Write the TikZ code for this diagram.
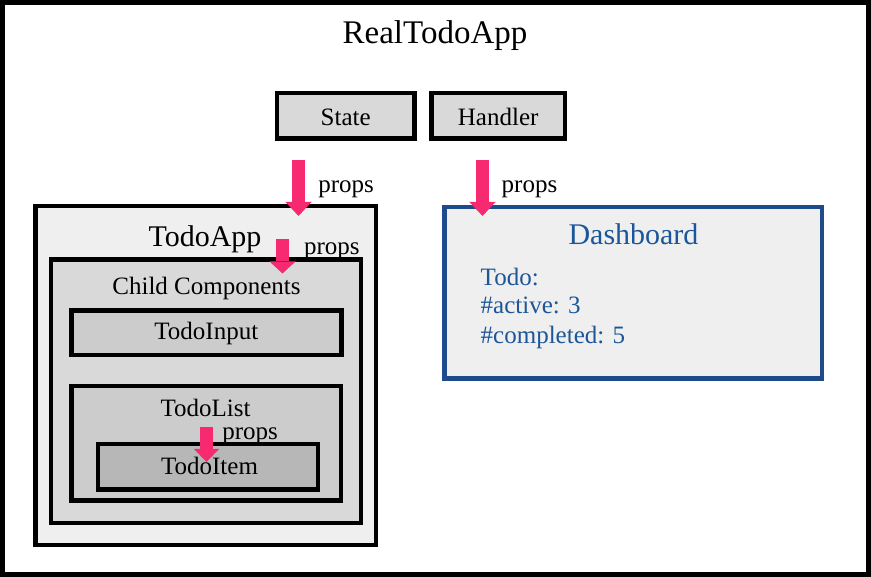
\documentclass[tikz,border=0pt]{standalone}
\usepackage{fontspec}
\setmainfont{Liberation Serif}
\usetikzlibrary{arrows.meta}
\definecolor{pinkc}{RGB}{246,41,113}
\definecolor{boxA}{HTML}{D9D9D9}
\definecolor{boxB}{HTML}{EFEFEF}
\definecolor{boxC}{HTML}{CCCCCC}
\definecolor{boxD}{HTML}{B7B7B7}
\definecolor{dashborder}{RGB}{31,75,140}
\definecolor{dashtext}{RGB}{28,86,152}
\begin{document}
\begin{tikzpicture}[x=1pt,y=-1pt,
  box/.style={draw=black, line width=4.5pt, rectangle, inner sep=0pt, outer sep=0pt, anchor=north west},
  txt/.style={inner sep=0pt, outer sep=0pt, font=\fontsize{25}{30}\selectfont},
  bigtxt/.style={inner sep=0pt, outer sep=0pt, font=\fontsize{30}{36}\selectfont},
  propsarrow/.style={draw=pinkc, line width=13.5pt, -{Triangle[width=26pt,length=14pt,line width=0pt]}}
]
\useasboundingbox (0,0) rectangle (871,577);
% outer frame
\node[box, line width=5pt, fill=white, minimum width=866pt, minimum height=572pt] (root) at (2.5,2.5) {};
\node[inner sep=0pt, font=\fontsize{33}{40}\selectfont, anchor=base] (rootlbl) at (435,44) {RealTodoApp};
% State / Handler
\node[box, fill=boxA, minimum width=137.5pt, minimum height=45.5pt] (state) at (277,93) {};
\node[txt, anchor=base] (statelbl) at (345.7,126) {State};
\node[box, fill=boxA, minimum width=133.7pt, minimum height=45.5pt] (handler) at (431.3,93) {};
\node[txt, anchor=base] (handlerlbl) at (498.2,126) {Handler};
% TodoApp
\node[box, fill=boxB, minimum width=340.7pt, minimum height=339pt] (todoapp) at (35.3,206) {};
\node[bigtxt, anchor=base] (todoapplbl) at (205,246.5) {TodoApp};
% Child components
\node[box, fill=boxA, minimum width=310pt, minimum height=263.7pt] (child) at (51,259.3) {};
\node[txt, anchor=base] (childlbl) at (206.5,294.5) {Child Components};
\node[box, fill=boxC, minimum width=270pt, minimum height=44.7pt] (todoinput) at (71.3,310.3) {};
\node[txt, anchor=base] (todoinputlbl) at (206.3,340) {TodoInput};
\node[box, fill=boxC, minimum width=269.7pt, minimum height=114.5pt] (todolist) at (71.3,386) {};
\node[txt, anchor=base] (todolistlbl) at (205.5,416.5) {TodoList};
\node[box, fill=boxD, minimum width=220pt, minimum height=45.3pt] (todoitem) at (98,444) {};
\node[txt, anchor=base] (todoitemlbl) at (209.5,475) {TodoItem};
% Dashboard
\node[box, draw=dashborder, fill=boxB, minimum width=377.3pt, minimum height=171.7pt] (dash) at (444.7,207) {};
\node[bigtxt, anchor=base, text=dashtext] (dashlbl) at (633.5,244.5) {Dashboard};
\node[txt, anchor=base west, text=dashtext] (dtodo) at (480.7,285.5) {Todo:};
\node[txt, anchor=base west, text=dashtext] (dactive) at (480.7,314) {\#active: 3};
\node[txt, anchor=base west, text=dashtext] (dcompl) at (480.7,343.3) {\#completed: 5};
% props arrows
\coordinate (a1s) at (298.5,160);
\coordinate (a1e) at (298.5,216);
\coordinate (a2s) at (482.5,160);
\coordinate (a2e) at (482.5,216);
\coordinate (a3s) at (282.5,239);
\coordinate (a3e) at (282.5,273.5);
\coordinate (a4s) at (206.5,427);
\coordinate (a4e) at (206.5,462);
\draw[propsarrow] (a1s) -- (a1e);
\draw[propsarrow] (a2s) -- (a2e);
\draw[propsarrow, line width=13pt, -{Triangle[width=26pt,length=12pt,line width=0pt]}] (a3s) -- (a3e);
\draw[propsarrow, line width=13pt, -{Triangle[width=25pt,length=13pt,line width=0pt]}] (a4s) -- (a4e);
\node[txt, anchor=base west] (p1) at (318.3,193) {props};
\node[txt, anchor=base west] (p2) at (501.7,193) {props};
\node[txt, anchor=base west] (p3) at (304,254.5) {props};
\node[txt, anchor=base west] (p4) at (222.3,439) {props};
\end{tikzpicture}
\end{document}
